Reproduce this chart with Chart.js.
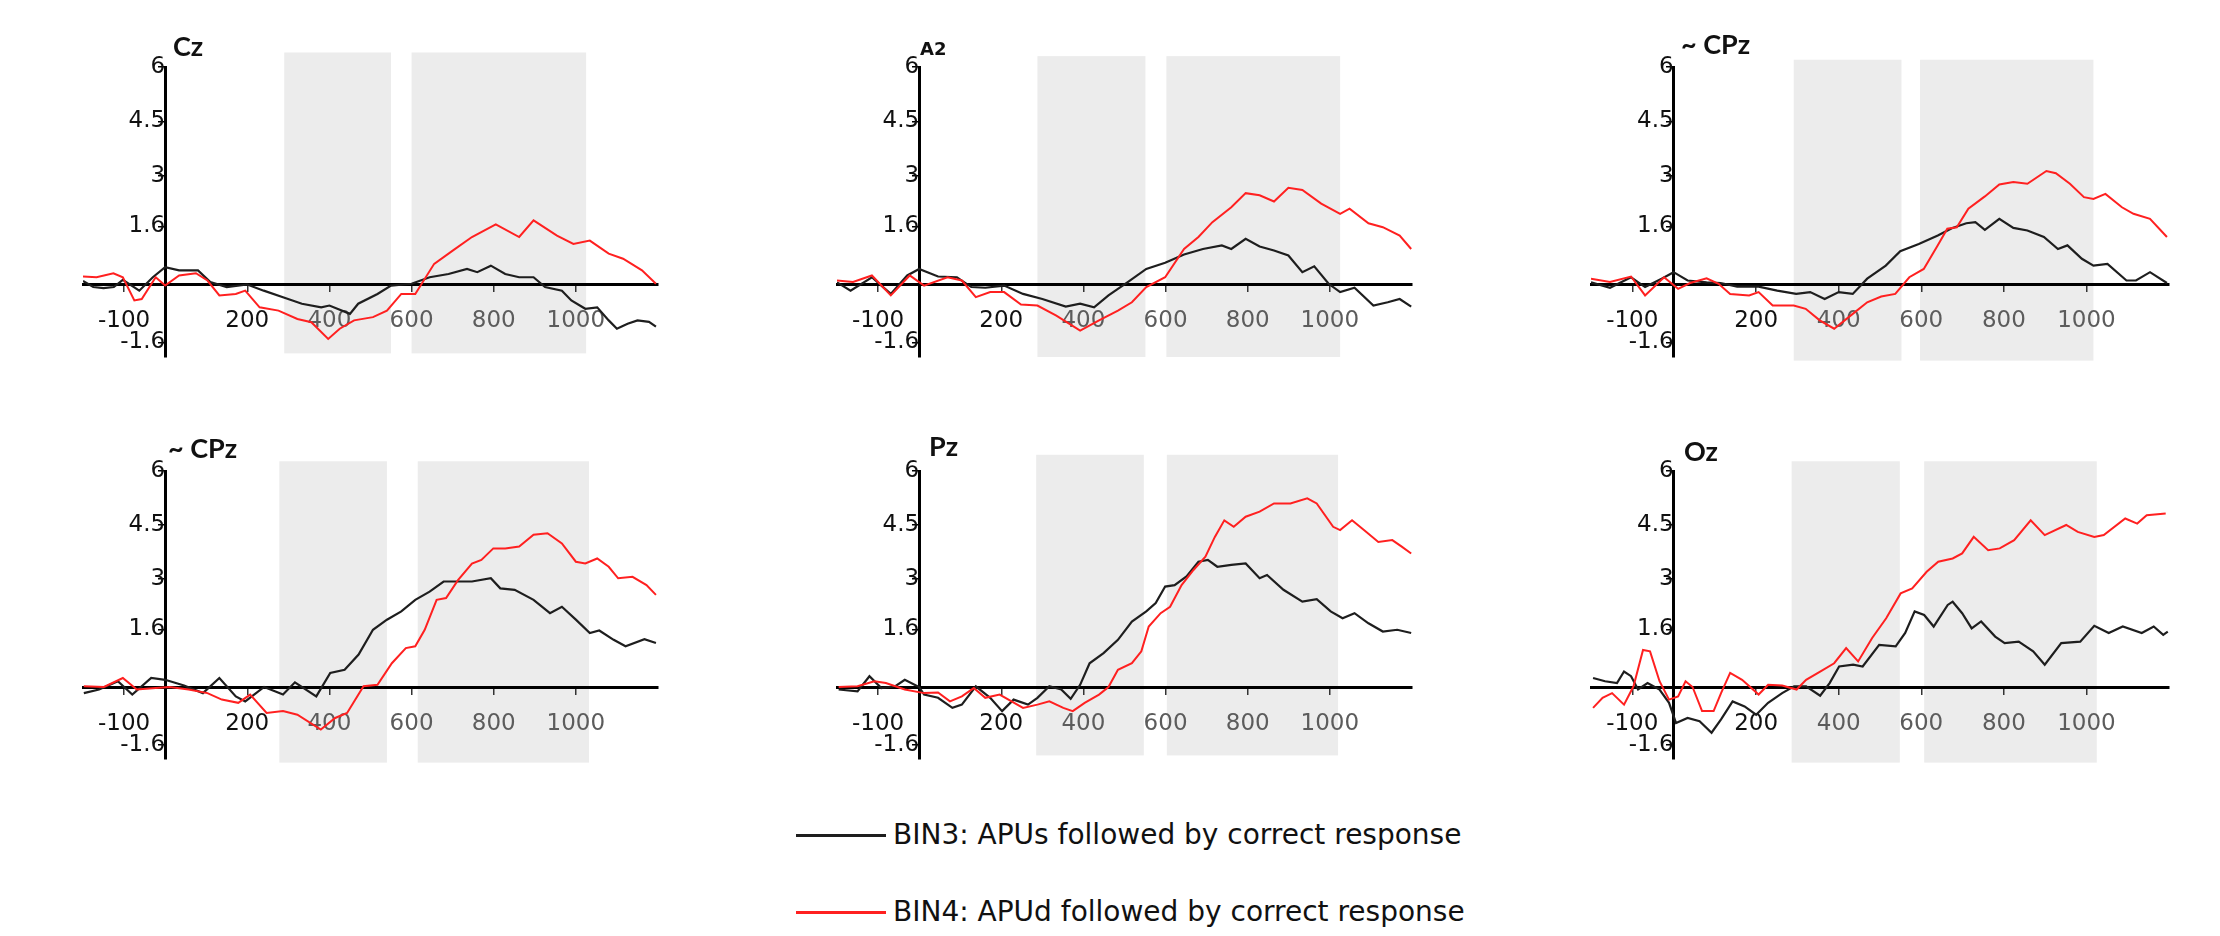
<!DOCTYPE html>
<html>
<head>
<meta charset="utf-8">
<script src="https://cdn.jsdelivr.net/npm/chart.js@4.4.1/dist/chart.umd.min.js"></script>
<style>
  body { margin: 0; background: #fff; width: 2220px; height: 936px; position: relative; overflow: hidden; }
  canvas { position: absolute; }
  .ttl { position: absolute; font-family: Lato, "Open Sans", sans-serif; font-weight: 700; font-size: 27px; color: #111; line-height: 30px; }
  .leg { position: absolute; font-family: "DejaVu Sans", sans-serif; font-size: 28px; color: #111; line-height: 34px; }
  .legline { position: absolute; height: 3px; width: 90px; }
</style>
</head>
<body>
<script>
// time axis (ms) and tick labels
var xTicks = [-100, 200, 400, 600, 800, 1000];
var yTicks = [-1.6, 1.6, 3, 4.5, 6];

// series: [ms, µV]  BIN3 = black, BIN4 = red
var czBin3 = [[-200,0.1],[-175,-0.07],[-150,-0.1],[-125,-0.07],[-103,0.13],[-63,-0.17],[-30,0.2],[0,0.48],[34,0.39],[80,0.39],[110,0.07],[150,-0.07],[200,0],[240,-0.17],[287,-0.35],[333,-0.53],[380,-0.63],[400,-0.58],[450,-0.81],[470,-0.53],[517,-0.26],[550,-0.03],[600,0.02],[644,0.2],[690,0.29],[735,0.43],[760,0.34],[793,0.52],[828,0.29],[862,0.2],[897,0.2],[925,-0.07],[966,-0.17],[989,-0.44],[1023,-0.67],[1052,-0.63],[1080,-0.99],[1100,-1.22],[1126,-1.08],[1150,-0.99],[1178,-1.03],[1195,-1.16]];
var czBin4 = [[-200,0.22],[-167,0.2],[-126,0.31],[-103,0.2],[-75,-0.44],[-57,-0.4],[-23,0.2],[0,-0.03],[34,0.25],[75,0.31],[103,0.11],[132,-0.3],[172,-0.26],[195,-0.17],[230,-0.63],[276,-0.72],[322,-0.95],[356,-1.04],[397,-1.5],[425,-1.22],[460,-0.99],[506,-0.9],[540,-0.72],[575,-0.26],[609,-0.26],[655,0.57],[701,0.94],[747,1.31],[805,1.66],[862,1.31],[897,1.77],[954,1.35],[994,1.12],[1034,1.21],[1080,0.85],[1115,0.71],[1161,0.39],[1195,0.02]];

var a2Bin3 = [[-200,0.06],[-167,-0.17],[-115,0.2],[-69,-0.26],[-29,0.25],[0,0.43],[46,0.22],[92,0.2],[127,-0.07],[161,-0.09],[207,-0.03],[253,-0.26],[300,-0.4],[357,-0.61],[392,-0.53],[426,-0.63],[461,-0.3],[507,0.06],[553,0.43],[599,0.6],[645,0.83],[691,0.98],[737,1.08],[760,0.98],[795,1.26],[829,1.05],[864,0.94],[899,0.8],[933,0.34],[962,0.5],[997,0.02],[1025,-0.21],[1060,-0.09],[1106,-0.58],[1141,-0.49],[1170,-0.4],[1198,-0.61]];
var a2Bin4 = [[-200,0.11],[-161,0.07],[-115,0.25],[-69,-0.3],[-23,0.25],[12,-0.03],[69,0.2],[104,0.11],[138,-0.35],[173,-0.21],[207,-0.21],[248,-0.55],[288,-0.58],[334,-0.86],[392,-1.27],[438,-0.99],[484,-0.72],[518,-0.49],[553,-0.07],[599,0.2],[645,0.98],[680,1.31],[714,1.72],[760,2.13],[795,2.52],[829,2.46],[864,2.29],[899,2.67],[933,2.61],[979,2.23],[1025,1.95],[1048,2.09],[1094,1.69],[1129,1.58],[1170,1.35],[1198,0.98]];

var cpzABin3 = [[-200,0.06],[-154,-0.09],[-103,0.2],[-69,-0.07],[-29,0.16],[0,0.34],[34,0.11],[80,0.06],[114,0.04],[154,-0.06],[206,-0.06],[251,-0.17],[297,-0.26],[331,-0.21],[366,-0.4],[400,-0.21],[434,-0.26],[469,0.16],[514,0.52],[549,0.92],[594,1.12],[640,1.35],[674,1.55],[709,1.69],[731,1.72],[754,1.51],[789,1.81],[823,1.56],[857,1.49],[897,1.31],[931,0.98],[954,1.08],[989,0.71],[1017,0.52],[1051,0.57],[1097,0.11],[1120,0.11],[1154,0.34],[1195,0.04]];
var cpzABin4 = [[-200,0.16],[-154,0.07],[-103,0.22],[-69,-0.3],[-23,0.2],[11,-0.12],[40,0.04],[80,0.17],[109,0.02],[137,-0.26],[183,-0.3],[206,-0.21],[240,-0.58],[291,-0.58],[320,-0.67],[354,-0.99],[389,-1.22],[434,-0.81],[469,-0.49],[503,-0.33],[537,-0.26],[571,0.2],[606,0.43],[640,1.08],[663,1.54],[686,1.58],[714,2.09],[754,2.43],[789,2.76],[823,2.83],[857,2.78],[903,3.13],[926,3.07],[960,2.78],[994,2.41],[1017,2.36],[1046,2.5],[1086,2.13],[1114,1.95],[1154,1.81],[1195,1.31]];

var cpzBBin3 = [[-198,-0.17],[-161,-0.07],[-115,0.16],[-80,-0.21],[-34,0.25],[0,0.2],[46,0.04],[92,-0.17],[132,0.25],[172,-0.26],[195,-0.4],[241,0],[287,-0.21],[316,0.13],[368,-0.26],[402,0.39],[437,0.48],[471,0.9],[506,1.59],[540,1.87],[575,2.1],[609,2.42],[644,2.65],[678,2.93],[713,2.93],[747,2.93],[793,3.02],[816,2.74],[851,2.7],[897,2.42],[937,2.05],[966,2.23],[1000,1.87],[1034,1.5],[1057,1.57],[1092,1.31],[1121,1.13],[1167,1.33],[1195,1.22]];
var cpzBBin4 = [[-198,0.02],[-149,0],[-103,0.25],[-69,-0.07],[-23,-0.03],[11,0],[57,-0.07],[103,-0.17],[138,-0.35],[178,-0.44],[207,-0.21],[247,-0.72],[287,-0.67],[322,-0.77],[379,-1.18],[414,-0.86],[443,-0.72],[483,0.02],[517,0.06],[552,0.66],[586,1.08],[609,1.13],[632,1.59],[661,2.42],[684,2.47],[713,2.97],[747,3.43],[770,3.53],[799,3.85],[828,3.85],[862,3.9],[897,4.23],[931,4.27],[966,3.99],[1000,3.48],[1023,3.43],[1052,3.57],[1080,3.34],[1103,3.02],[1138,3.06],[1172,2.83],[1195,2.56]];

var pzBin3 = [[-196,-0.07],[-150,-0.12],[-121,0.3],[-92,-0.03],[-58,0.02],[-35,0.2],[0,0],[12,-0.21],[46,-0.3],[81,-0.58],[104,-0.49],[138,0.02],[173,-0.3],[202,-0.67],[230,-0.35],[265,-0.49],[288,-0.3],[317,0.02],[346,-0.07],[369,-0.33],[392,0.06],[415,0.66],[449,0.94],[484,1.31],[518,1.82],[553,2.1],[576,2.33],[599,2.79],[622,2.83],[651,3.07],[680,3.48],[703,3.53],[726,3.34],[760,3.39],[795,3.43],[829,3.02],[847,3.11],[887,2.7],[933,2.37],[968,2.44],[1002,2.1],[1031,1.91],[1060,2.05],[1094,1.77],[1129,1.54],[1164,1.59],[1198,1.5]];
var pzBin4 = [[-196,0],[-150,0.02],[-109,0.16],[-81,0.11],[-35,-0.07],[12,-0.17],[46,-0.15],[75,-0.4],[104,-0.26],[133,-0.03],[161,-0.3],[196,-0.21],[225,-0.4],[253,-0.58],[288,-0.49],[317,-0.4],[351,-0.58],[374,-0.67],[403,-0.44],[438,-0.21],[461,0],[484,0.48],[518,0.66],[541,0.99],[559,1.68],[588,2.05],[611,2.23],[639,2.83],[668,3.25],[697,3.62],[720,4.17],[743,4.63],[766,4.45],[795,4.73],[829,4.87],[864,5.1],[904,5.1],[945,5.24],[968,5.1],[1008,4.45],[1025,4.36],[1054,4.63],[1083,4.36],[1118,4.03],[1152,4.08],[1175,3.9],[1198,3.71]];

var ozBin3 = [[-195,0.25],[-166,0.16],[-137,0.11],[-120,0.43],[-103,0.3],[-86,-0.07],[-63,0.11],[-34,-0.07],[-11,-0.44],[6,-1.0],[34,-0.86],[63,-0.95],[92,-1.27],[115,-0.9],[143,-0.4],[172,-0.54],[200,-0.77],[229,-0.44],[263,-0.17],[292,0.02],[321,0.02],[355,-0.24],[378,0.11],[401,0.57],[435,0.62],[458,0.57],[498,1.17],[538,1.13],[561,1.5],[584,2.1],[607,2.0],[630,1.68],[664,2.28],[676,2.37],[699,2.05],[722,1.63],[745,1.82],[779,1.4],[802,1.22],[836,1.26],[871,0.99],[899,0.62],[939,1.22],[985,1.26],[1019,1.7],[1054,1.5],[1088,1.68],[1134,1.5],[1163,1.68],[1186,1.45],[1197,1.54]];
var ozBin4 = [[-195,-0.58],[-172,-0.3],[-149,-0.17],[-120,-0.49],[-97,0.02],[-74,1.03],[-57,0.99],[-34,0.16],[-11,-0.35],[11,-0.26],[29,0.16],[46,0],[69,-0.67],[97,-0.67],[115,-0.17],[137,0.39],[166,0.2],[206,-0.21],[229,0.06],[263,0.04],[298,-0.07],[321,0.2],[355,0.43],[389,0.66],[418,1.08],[447,0.71],[481,1.36],[515,1.91],[550,2.6],[578,2.74],[613,3.2],[641,3.48],[676,3.57],[699,3.71],[727,4.17],[762,3.8],[790,3.85],[825,4.08],[865,4.63],[899,4.22],[951,4.5],[979,4.31],[1019,4.17],[1042,4.22],[1094,4.68],[1123,4.54],[1146,4.77],[1192,4.82]];

// shaded time windows per panel [start, end]
var czShade = [[290,550],[600,1025]];
var a2Shade = [[288,551],[602,1025]];
var cpzAShade = [[291,552],[597,1017]];
var cpzBShade = [[278,540],[615,1032]];
var pzShade = [[285,547],[603,1020]];
var ozShade = [[286,548],[607,1025]];

var panels = [
  {name: 'Cz',    b3: czBin3,   b4: czBin4,   shade: czShade,   sTop: 6.4,  sBot: -1.9, left: 83,   top: 67,  w: 575, h: 290, tx: 173,  ty: 31},
  {name: 'A2',    b3: a2Bin3,   b4: a2Bin4,   shade: a2Shade,   sTop: 6.3,  sBot: -2.0, left: 837,  top: 67,  w: 575, h: 290, tx: 920,  ty: 34, small: true},
  {name: '~ CPz', b3: cpzABin3, b4: cpzABin4, shade: cpzAShade, sTop: 6.2,  sBot: -2.1, left: 1591, top: 67,  w: 578, h: 290, tx: 1681, ty: 29},
  {name: '~ CPz', b3: cpzBBin3, b4: cpzBBin4, shade: cpzBShade, sTop: 6.27, sBot: -2.1, left: 83,   top: 471, w: 575, h: 288, tx: 168,  ty: 433},
  {name: 'Pz',    b3: pzBin3,   b4: pzBin4,   shade: pzShade,   sTop: 6.45, sBot: -1.9, left: 837,  top: 471, w: 575, h: 288, tx: 929,  ty: 431},
  {name: 'Oz',    b3: ozBin3,   b4: ozBin4,   shade: ozShade,   sTop: 6.27, sBot: -2.1, left: 1591, top: 471, w: 578, h: 288, tx: 1684, ty: 436}
];

var PAD = 40;

var shadePlugin = {
  id: 'shade',
  beforeDraw: function(chart) {
    var p = chart.options.plugins.shade;
    var ctx = chart.ctx, x = chart.scales.x, y = chart.scales.y;
    ctx.save();
    ctx.fillStyle = '#ececec';
    p.spans.forEach(function(s) {
      var x0 = x.getPixelForValue(s[0]), x1 = x.getPixelForValue(s[1]);
      var y0 = y.getPixelForValue(p.top), y1 = y.getPixelForValue(p.bottom);
      ctx.fillRect(x0, y0, x1 - x0, y1 - y0);
    });
    ctx.restore();
  }
};

function pts(arr) {
  return arr.map(function(p) { return {x: p[0], y: p[1]}; });
}

panels.forEach(function(p) {
  var cv = document.createElement('canvas');
  cv.width = p.w + 2 * PAD;
  cv.height = p.h + 2 * PAD;
  cv.style.left = (p.left - PAD) + 'px';
  cv.style.top = (p.top - PAD) + 'px';
  document.body.appendChild(cv);

  var t = document.createElement('div');
  t.className = 'ttl';
  t.textContent = p.name;
  t.style.left = p.tx + 'px';
  t.style.top = p.ty + 'px';
  if (p.small) { t.style.fontFamily = '"DejaVu Sans", sans-serif'; t.style.fontSize = '18px'; }
  document.body.appendChild(t);

  new Chart(cv.getContext('2d'), {
    type: 'line',
    data: {
      datasets: [
        {data: pts(p.b4), borderColor: '#ff2020', borderWidth: 2, pointRadius: 0, tension: 0},
        {data: pts(p.b3), borderColor: '#1e1e1e', borderWidth: 2.2, pointRadius: 0, tension: 0}
      ]
    },
    options: {
      responsive: false,
      animation: false,
      devicePixelRatio: 1,
      layout: {padding: PAD},
      plugins: {
        legend: {display: false},
        tooltip: {enabled: false},
        shade: {spans: p.shade, top: p.sTop, bottom: p.sBot}
      },
      scales: {
        x: {
          type: 'linear', min: -200, max: 1200,
          position: {y: 0},
          border: {color: '#000', width: 3},
          grid: {drawOnChartArea: false, color: '#333', tickLength: 6, lineWidth: 1.5},
          afterBuildTicks: function(s) { s.ticks = xTicks.map(function(v) { return {value: v}; }); },
          ticks: {
            padding: 17,
            font: {family: 'DejaVu Sans', size: 23},
            color: function(c) { return (c.tick && c.tick.value >= 400) ? '#5c5c5c' : '#111'; },
            callback: function(v) { return String(v); }
          }
        },
        y: {
          type: 'linear', min: -2, max: 6,
          position: {x: 0},
          border: {color: '#000', width: 3},
          grid: {drawOnChartArea: false, color: '#000', tickLength: 6, lineWidth: 1.5},
          afterBuildTicks: function(s) { s.ticks = yTicks.map(function(v) { return {value: v}; }); },
          ticks: {
            padding: 8,
            font: {family: 'DejaVu Sans', size: 23},
            color: '#111',
            callback: function(v) { return String(v); }
          }
        }
      }
    },
    plugins: [shadePlugin]
  });
});

// legend
var legendItems = [
  {label: 'BIN3: APUs followed by correct response', color: '#1e1e1e', y: 835},
  {label: 'BIN4: APUd followed by correct response', color: '#ff2020', y: 912}
];
legendItems.forEach(function(it) {
  var l = document.createElement('div');
  l.className = 'legline';
  l.style.left = '796px';
  l.style.top = (it.y - 1) + 'px';
  l.style.background = it.color;
  document.body.appendChild(l);
  var d = document.createElement('div');
  d.className = 'leg';
  d.textContent = it.label;
  d.style.left = '893px';
  d.style.top = (it.y - 17) + 'px';
  document.body.appendChild(d);
});
</script>
</body>
</html>
